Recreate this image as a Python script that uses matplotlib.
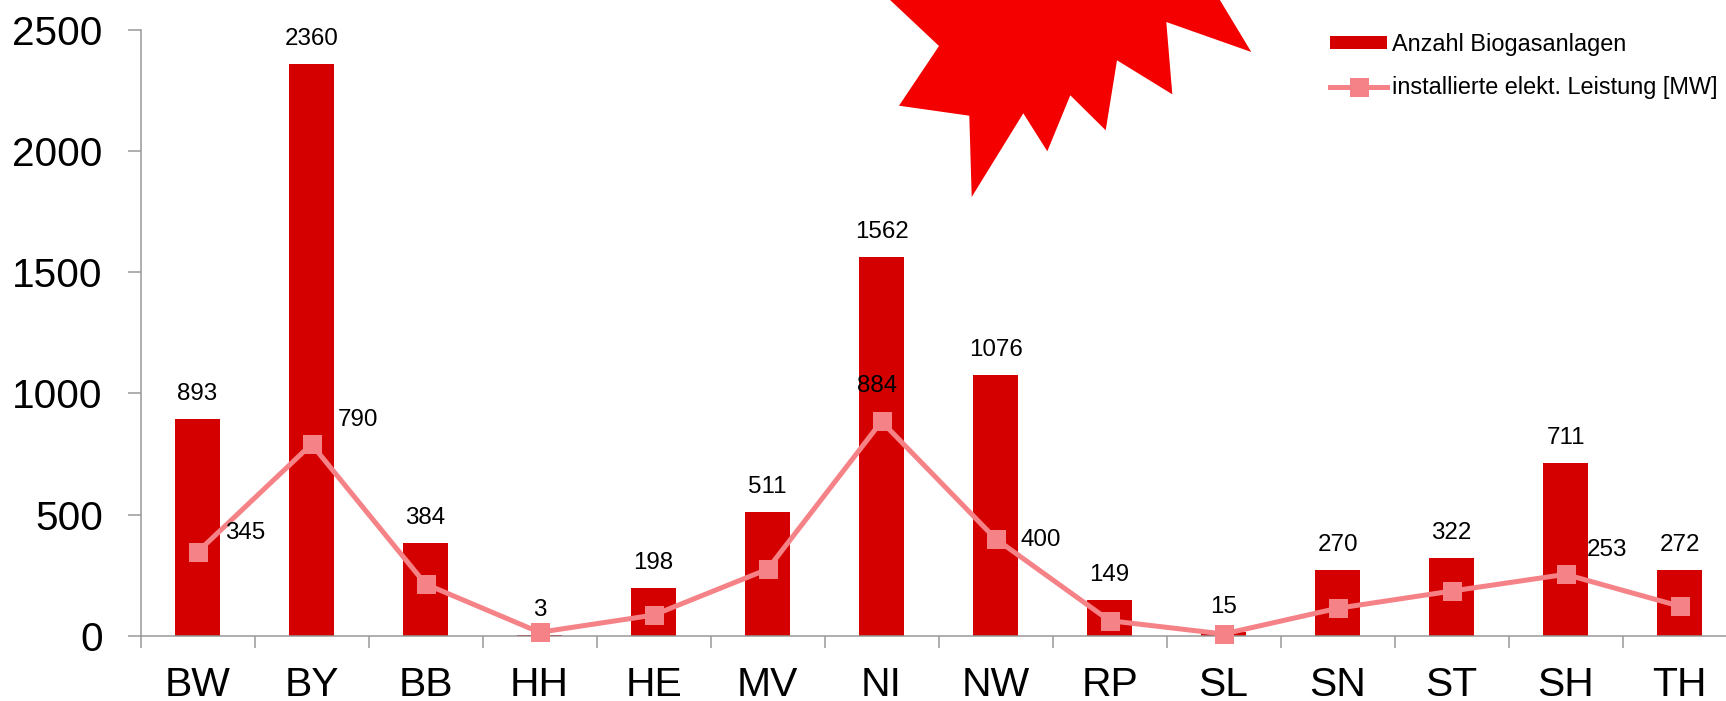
import matplotlib
matplotlib.use("Agg")
import matplotlib.pyplot as plt
from matplotlib.patches import Polygon
from matplotlib.transforms import Affine2D

W, H = 1726, 701
DPI = 100

states = ["BW", "BY", "BB", "HH", "HE", "MV", "NI", "NW", "RP", "SL", "SN", "ST", "SH", "TH"]
plants = [893, 2360, 384, 3, 198, 511, 1562, 1076, 149, 15, 270, 322, 711, 272]
power_mw = [345, 790, 213, 14, 85, 274, 884, 400, 62, 7, 113, 184, 253, 122]
y_ticks = [0, 500, 1000, 1500, 2000, 2500]

# Power labels shown only for selected states: state -> (text, dx px, dy px)
power_labels = {
    "BW": ("345", 48, -19),
    "BY": ("790", 46, -24),
    "NI": ("884", -4, -35),
    "NW": ("400", 45, 1),
    "SH": ("253", 41, -24),
}

# Decorative starburst outline, in pixels from the top-left corner
star_px = [(889, -1), (939, 46), (899, 105.7), (969.3, 115.7), (971.7, 197),
           (1023.3, 113.3), (1047.3, 151.3), (1070.3, 95.3), (1105.7, 130.3),
           (1117, 60.3), (1172.3, 94.3), (1166.3, 22), (1251.3, 52), (1219.3, -1)]

BAR_RED = "#D40000"
LINE_PINK = "#F58286"
STAR_RED = "#F40000"
AXIS_GREY = "#969696"
px = 72 / DPI

plt.rcParams["font.family"] = ["Liberation Sans", "DejaVu Sans"]

fig = plt.figure(figsize=(W / DPI, H / DPI), dpi=DPI, facecolor="white")
left, right, top, bottom = 140.5, 1736.5, 29.7, 635.7
ax = fig.add_axes([left / W, 1 - bottom / H, (right - left) / W, (bottom - top) / H])

xs = range(len(states))
bars = ax.bar(xs, plants, width=0.4, color=BAR_RED, label="Anzahl Biogasanlagen", zorder=2)
line, = ax.plot(xs, power_mw, color=LINE_PINK, lw=5 * px, marker="s", ms=19 * px, mew=0,
                label="installierte elekt. Leistung [MW]", clip_on=False, zorder=3)

ax.set_xlim(-0.5, len(states) - 0.5)
ax.set_ylim(0, 2500)

for x, v in zip(xs, plants):
    ax.annotate(str(v), (x, v), xytext=(0, 25 * px), textcoords="offset points",
                ha="center", va="center", fontsize=17.4, color="black", zorder=4)

for name, (text, dx, dy) in power_labels.items():
    i = states.index(name)
    ax.annotate(text, (i, power_mw[i]), xytext=(dx * px, -dy * px), textcoords="offset points",
                ha="center", va="center", fontsize=17.4, color="black", zorder=4)

for side in ("top", "right"):
    ax.spines[side].set_visible(False)
for side in ("left", "bottom"):
    ax.spines[side].set_color(AXIS_GREY)
    ax.spines[side].set_linewidth(1.5 * px)

ax.set_yticks(y_ticks)
ax.tick_params(axis="y", length=12.7 * px, width=1.5 * px, color=AXIS_GREY,
               labelsize=29.2, pad=25 * px)
ax.set_xticks([i - 0.5 for i in range(len(states) + 1)], labels=[])
ax.set_xticks(list(xs), labels=states, minor=True)
ax.tick_params(axis="x", which="major", length=12 * px, width=1.5 * px, color=AXIS_GREY)
ax.tick_params(axis="x", which="minor", length=0, labelsize=29.4, pad=30 * px)

leg = ax.legend(handles=[bars, line], loc="upper left", bbox_to_anchor=(1330 / W, 1 - 33 / H),
                bbox_transform=fig.transFigure, frameon=False, fontsize=16.9, numpoints=1,
                borderpad=0, borderaxespad=0, handlelength=2.43, handleheight=0.51,
                handletextpad=0.23, labelspacing=0.87)

to_fig = Affine2D().scale(1 / W, -1 / H).translate(0, 1) + fig.transFigure
fig.add_artist(Polygon(star_px, closed=True, facecolor=STAR_RED, edgecolor="none",
                       transform=to_fig))

fig.savefig("out.png", dpi=DPI)
